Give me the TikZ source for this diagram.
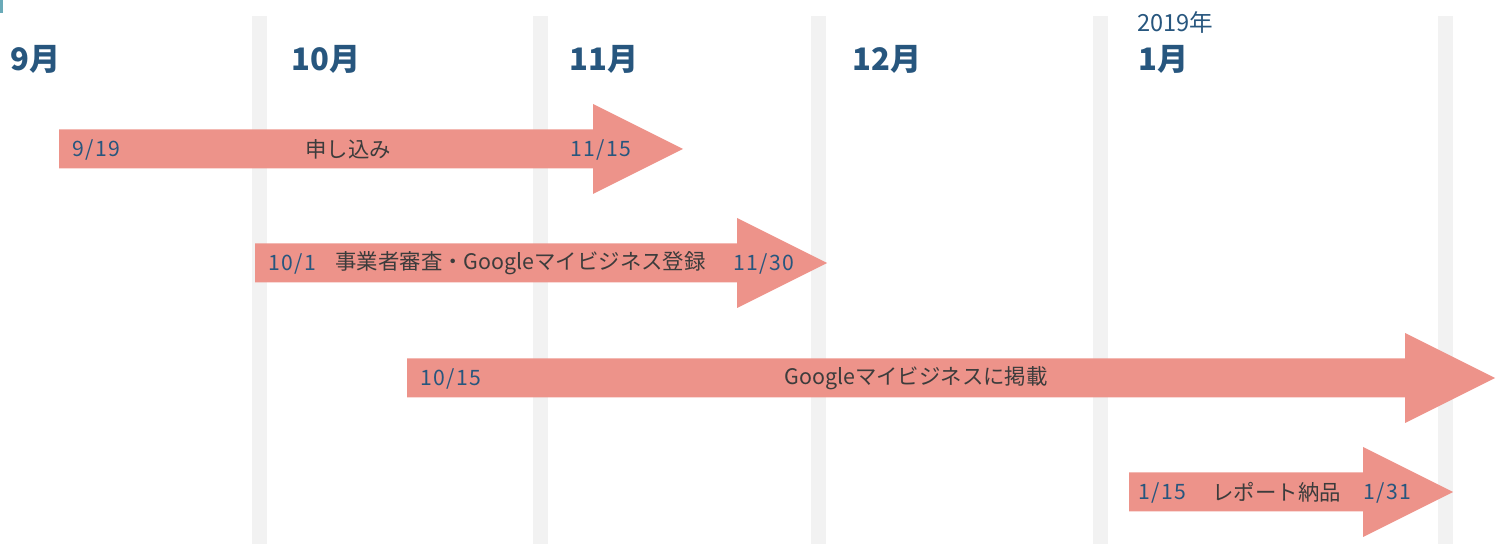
\documentclass[tikz,border=0pt]{standalone}
\usepackage{fontspec}
\setmainfont{Noto Sans CJK JP}
\definecolor{barsalmon}{HTML}{ED938A}
\definecolor{bandgrey}{HTML}{F2F2F2}
\definecolor{monthblue}{HTML}{27567E}
\definecolor{taskgrey}{HTML}{3C3C3C}
\definecolor{headteal}{HTML}{6AAAB8}

\begin{document}
\begin{tikzpicture}[x=0.5pt,y=-0.5pt]
            \tikzstyle{month}=[anchor=base west,text=monthblue,inner sep=0pt,font=\bfseries\fontsize{15.5}{18}\selectfont]
            \tikzstyle{year}=[anchor=base west,text=monthblue,inner sep=0pt,font=\fontsize{11.8}{14}\selectfont]
            \tikzstyle{date}=[anchor=west,text=monthblue,inner sep=0pt,font=\fontsize{10.6}{12}\selectfont\addfontfeature{LetterSpace=6}]
            \tikzstyle{task}=[anchor=west,text=taskgrey,inner sep=0pt,font=\fontsize{10.7}{12}\selectfont]
                    \useasboundingbox (0,0) rectangle (1504,544);
                    \fill[headteal] (0,0) rectangle (3,13);

                \foreach \x in {252, 533, 811, 1093, 1438}
                    \fill[bandgrey] (\x,16) rectangle (\x+15,544);

                    \node[month] (M-9) at (10, 71){9月};
                    \node[month] (M-10) at (291, 71){10月};
                    \node[month] (M-11) at (569, 71){11月};
                    \node[month] (M-12) at (852, 71){12月};
                    \node[month] (M-1) at (1138, 71){1月};
                    \node[year] (Y-2019) at (1137, 32){2019年};

                \foreach \a/\b/\c in {59/593/149, 255/737/263, 407/1405/378, 1129/1363/492}
                    \fill[barsalmon] (\a,\c-19.5) -- (\b,\c-19.5) -- (\b,\c-45) -- (\b+90,\c) -- (\b,\c+45) -- (\b,\c+19.5) -- (\a,\c+19.5) -- cycle;

                    \node[date] (S-0) at (72, 150){9/19};
                    \node[task] (T-0) at (305, 149){申し込み};
                    \node[date] (E-0) at (570, 150){11/15};

                    \node[date] (S-1) at (268, 264){10/1};
                    \node[task] (T-1) at (335, 263){事業者審査・Googleマイビジネス登録};
                    \node[date] (E-1) at (733, 264){11/30};

                    \node[date] (S-2) at (420, 379){10/15};
                    \node[task] (T-2) at (784, 378){Googleマイビジネスに掲載};

                    \node[date] (S-3) at (1138, 493){1/15};
                    \node[task] (T-3) at (1212, 492){レポート納品};
                    \node[date] (E-3) at (1363, 493){1/31};
        \end{tikzpicture}
\end{document}
